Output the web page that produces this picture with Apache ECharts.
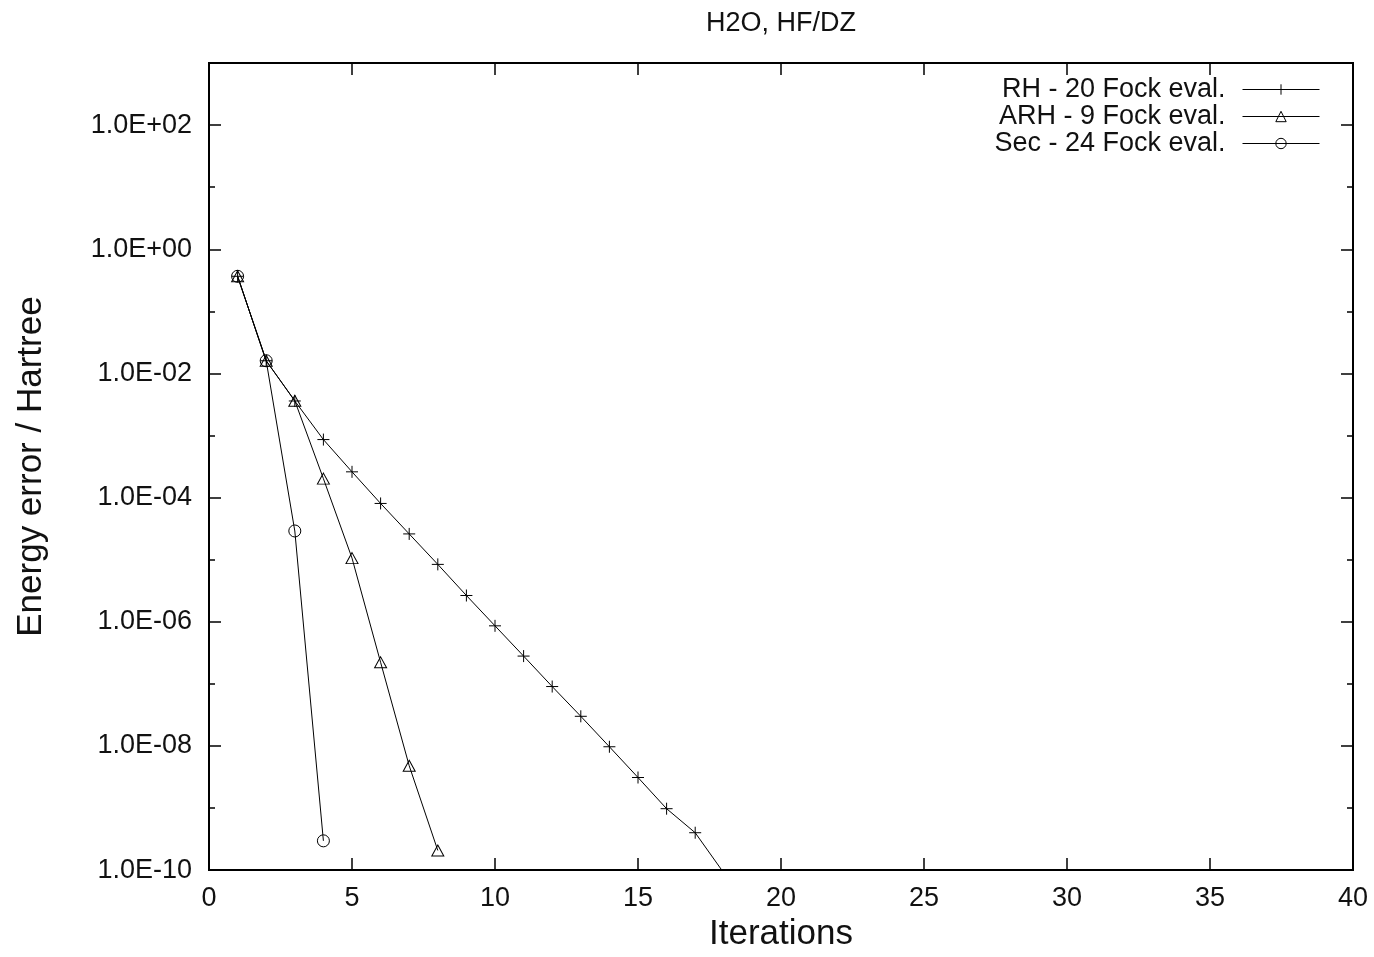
<!DOCTYPE html>
<html>
<head>
<meta charset="utf-8">
<script src="https://cdn.jsdelivr.net/npm/echarts@6/dist/echarts.min.js"></script>
<style>
html,body{margin:0;padding:0;background:#fff;}
#chart{width:1374px;height:957px;}
</style>
</head>
<body>
<div id="chart"></div>
<script>
// Data (energy error in Hartree, per iteration)
var iterations = [1,2,3,4,5,6,7,8,9,10,11,12,13,14,15,16,17,18];
var rhValues  = [0.367,0.016,3.6e-3,8.6e-4,2.6e-4,8.05e-5,2.6e-5,8.4e-6,2.65e-6,8.6e-7,2.8e-7,9.05e-8,3.0e-8,9.7e-9,3.1e-9,9.75e-10,4.0e-10,9.0e-11];
var arhValues = [0.367,0.016,3.63e-3,2.02e-4,1.06e-5,2.22e-7,4.8e-9,2.07e-10];
var secValues = [0.367,0.016,2.9e-5,2.96e-10];
var seriesNames = ['RH - 20 Fock eval.','ARH - 9 Fock eval.','Sec - 24 Fock eval.'];
var titleText = 'H2O, HF/DZ';
var xName = 'Iterations';
var yName = 'Energy error / Hartree';
var xTicks = [0,5,10,15,20,25,30,35,40];
var yDecadeMin = -10, yDecadeMax = 3;

function toPairs(vals){
  return vals.map(function(v,i){ return [iterations[i], Math.log10(v)]; });
}
function fmtExp(v){
  if (Math.round(v) % 2 !== 0 || v > 2) return '';
  var e = Math.round(v);
  var s = Math.abs(e) < 10 ? '0' + Math.abs(e) : '' + Math.abs(e);
  return '1.0E' + (e < 0 ? '-' : '+') + s;
}
var FONT = '"Liberation Sans", Arial, Helvetica, sans-serif';
var chart = echarts.init(document.getElementById('chart'));
var markerStyle = {color:'rgba(0,0,0,0)', borderColor:'#000', borderWidth:1};
var lineSt = {color:'#000', width:1};
var baseY = {type:'value', min:yDecadeMin, max:yDecadeMax, axisLine:{show:false,onZero:false}, splitLine:{show:false}};
var baseX = {type:'value', min:xTicks[0], max:xTicks[xTicks.length-1], interval:5, axisLine:{show:false,onZero:false}, splitLine:{show:false}};
chart.setOption({
  animation:false,
  backgroundColor:'#fff',
  title:{text:titleText, left:781, textAlign:'center', top:10, padding:0,
    textStyle:{fontFamily:FONT, fontSize:27, fontWeight:'normal', color:'#111'}},
  grid:{left:209, right:21, top:63, bottom:81, show:true, borderColor:'#000', borderWidth:2, backgroundColor:'transparent'},
  legend:{orient:'vertical', right:54, top:76, padding:0, align:'right', itemGap:0,
    itemWidth:77, itemHeight:13, data:seriesNames,
    formatter:function(n){ return '{a|' + n + '}'; },
    textStyle:{fontFamily:FONT, fontSize:27, color:'#111',
      rich:{a:{fontFamily:FONT, fontSize:27, color:'#111', lineHeight:27, padding:[0,12,0,0]}}},
    lineStyle:{color:'#000', width:1},
    itemStyle:{color:'rgba(0,0,0,0)', borderColor:'#000', borderWidth:1}
  },
  xAxis:[
    Object.assign({}, baseX, {position:'bottom',
      name:xName, nameLocation:'middle', nameGap:42,
      nameTextStyle:{fontFamily:FONT, fontSize:35, color:'#111'},
      axisTick:{inside:true, length:12, lineStyle:{color:'#000', width:1.5}},
      axisLabel:{margin:15, fontFamily:FONT, fontSize:27, color:'#111'}}),
    Object.assign({}, baseX, {position:'top',
      axisTick:{inside:true, length:12, lineStyle:{color:'#000', width:1.5}},
      axisLabel:{show:false}})
  ],
  yAxis:[
    Object.assign({}, baseY, {position:'left', interval:2,
      name:yName, nameLocation:'middle', nameGap:160,
      nameTextStyle:{fontFamily:FONT, fontSize:35, color:'#111'},
      axisTick:{inside:true, length:12, lineStyle:{color:'#000', width:1.5}},
      axisLabel:{margin:17, fontFamily:FONT, fontSize:27, color:'#111', formatter:fmtExp}}),
    Object.assign({}, baseY, {position:'left', interval:1,
      axisTick:{inside:true, length:6, lineStyle:{color:'#000', width:1.5}},
      axisLabel:{show:false}}),
    Object.assign({}, baseY, {position:'right', interval:2,
      axisTick:{inside:true, length:12, lineStyle:{color:'#000', width:1.5}},
      axisLabel:{show:false}}),
    Object.assign({}, baseY, {position:'right', interval:1,
      axisTick:{inside:true, length:6, lineStyle:{color:'#000', width:1.5}},
      axisLabel:{show:false}})
  ],
  series:[
    {name:seriesNames[0], type:'line', data:toPairs(rhValues), clip:true,
      symbol:'path://M0 6H12M6 0V12', symbolSize:12, itemStyle:markerStyle, lineStyle:lineSt},
    {name:seriesNames[1], type:'line', data:toPairs(arhValues), clip:true,
      symbol:'triangle', symbolSize:[12,11], itemStyle:markerStyle, lineStyle:lineSt},
    {name:seriesNames[2], type:'line', data:toPairs(secValues), clip:true,
      symbol:'circle', symbolSize:12, itemStyle:markerStyle, lineStyle:lineSt}
  ]
});
</script>
</body>
</html>
